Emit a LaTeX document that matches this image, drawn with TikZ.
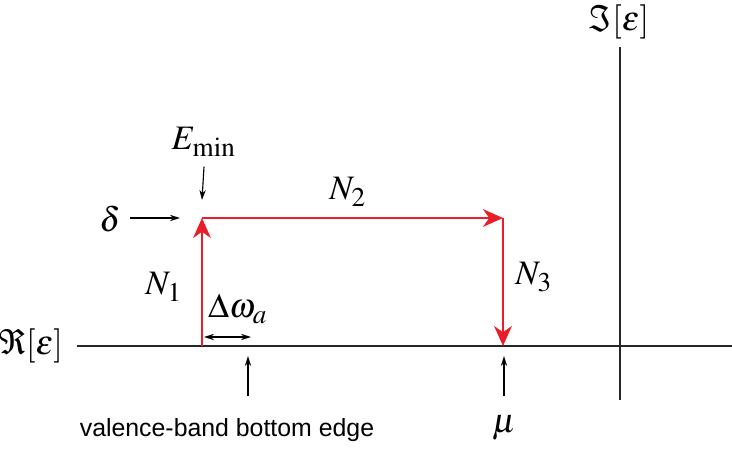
\documentclass[tikz,border=0pt]{standalone}
\usepackage{mathptmx}
\usepackage[no-math]{fontspec}
\newfontfamily\bandfont{Liberation Sans}
\usetikzlibrary{arrows.meta}
\DeclareMathSizes{12}{12}{9.5}{7.5}
\definecolor{pathred}{RGB}{232,30,40}
\tikzset{
  axis/.style={line width=0.7pt, black!85},
  redpath/.style={line width=0.9pt, pathred, -{Stealth[length=7pt,width=6.2pt,inset=2.2pt]}},
  pointer/.style={line width=0.4pt, -{Stealth[length=3.5pt,width=2.2pt]}},
  lbl/.style={font=\fontsize{12}{14}\selectfont},
}
\begin{document}
\begin{tikzpicture}[x=0.35pt,y=-0.35pt]
    \useasboundingbox (0,0) rectangle (732,448);

    % Achsen
    \coordinate (reL) at (77,346);  \coordinate (reR) at (732,346);
    \coordinate (imT) at (620,47);  \coordinate (imB) at (620,400);
    \draw[axis] (reL) -- (reR);
    \draw[axis] (imT) -- (imB);
    \node[lbl, anchor=east] (re) at (73,346) {$\Re[\varepsilon]$};
    \node[lbl, inner sep=1pt] (im) at (619,22) {$\Im[\varepsilon]$};

    % Ecken des Weges
    \coordinate (A) at (202,346);
    \coordinate (B) at (202,218);
    \coordinate (C) at (503,218);
    \coordinate (D) at (503,346);

    % Weg N1 -> N2 -> N3
    \draw[redpath] (A) -- (B);
    \draw[redpath] (B) -- (C);
    \draw[redpath] (C) -- (D);
    \node[lbl] (n1) at (164,287) {$N_1$};
    \node[lbl] (n2) at (348,192) {$N_2$};
    \node[lbl] (n3) at (534,277) {$N_3$};

    % Markierungen
    \node[lbl] (delta) at (110,219) {$\delta$};
    \coordinate (deltaStart) at (130,218);
    \coordinate (deltaEnd) at (180,218);
    \draw[pointer] (deltaStart) -- (deltaEnd);

    \node[lbl] (emin) at (204,142) {$E_{\mathrm{min}}$};
    \coordinate (eminEnd) at (202,200);
    \draw[pointer] (emin.south) -- (eminEnd);

    \node[lbl, inner sep=1pt] (dw) at (238,309) {$\Delta\omega_a$};
    \coordinate (dwL) at (204,337);  \coordinate (dwR) at (251,337);
    \draw[line width=0.4pt, {Stealth[length=3.5pt,width=2.2pt]}-{Stealth[length=3.5pt,width=2.2pt]}] (dwL) -- (dwR);

    \node[font=\bandfont\fontsize{8.7}{10}\selectfont] (vb) at (227,430) {valence-band bottom edge};
    \coordinate (vbTip) at (248,356);
    \draw[pointer] (248,396) -- (vbTip);

    \node[lbl] (mu) at (504,428) {$\mu$};
    \coordinate (muTip) at (504,356);
    \draw[pointer] (504,396) -- (muTip);
\end{tikzpicture}
\end{document}
